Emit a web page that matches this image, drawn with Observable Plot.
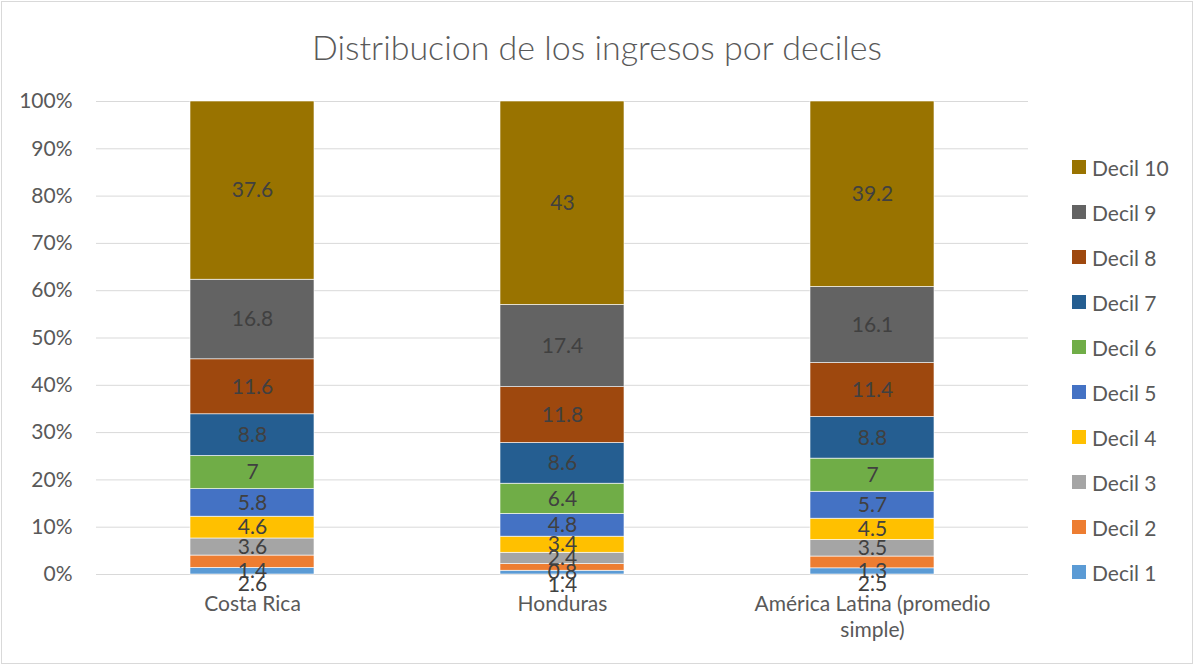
<!DOCTYPE html>
<html>
<head>
<meta charset="utf-8">
<script src="https://cdn.jsdelivr.net/npm/d3@7"></script>
<script src="https://cdn.jsdelivr.net/npm/@observablehq/plot@0.6"></script>
<style>
  html, body { margin: 0; padding: 0; background: #fff; }
  #chart { position: relative; width: 1194px; height: 665px; overflow: hidden; font-family: Lato, "Open Sans", sans-serif; }
  #frame { position: absolute; left: 1px; top: 1px; width: 1190px; height: 661px; border: 1px solid #d9d9d9; box-sizing: content-box; pointer-events: none; }
  #title { position: absolute; left: 0; width: 1194px; top: 25px; text-align: center; font-size: 34px; font-weight: 300; color: #595959; line-height: 44px; }
  #plot { position: absolute; left: 0; top: 0; }
  #legend { position: absolute; left: 1072px; top: 0; }
  .lg { position: absolute; left: 0; white-space: nowrap; font-size: 21px; color: #595959; display: flex; align-items: center; height: 24px; }
  .sw { width: 14px; height: 14px; margin-right: 6px; display: inline-block; }
</style>
</head>
<body>
<div id="chart">
  <div id="plot"></div>
  <div id="title">Distribucion de los ingresos por deciles</div>
  <div id="legend"></div>
  <div id="frame"></div>
</div>
<script>
// ---- data ----
const countries = ["Costa Rica", "Honduras", "América Latina (promedio simple)"];
const deciles = ["Decil 1", "Decil 2", "Decil 3", "Decil 4", "Decil 5", "Decil 6", "Decil 7", "Decil 8", "Decil 9", "Decil 10"];
const costaRica = [1.4, 2.6, 3.6, 4.6, 5.8, 7, 8.8, 11.6, 16.8, 37.6];
const honduras = [0.8, 1.4, 2.4, 3.4, 4.8, 6.4, 8.6, 11.8, 17.4, 43];
const americaLatina = [1.3, 2.5, 3.5, 4.5, 5.7, 7, 8.8, 11.4, 16.1, 39.2];
const colors = ["#5B9BD5", "#ED7D31", "#A5A5A5", "#FFC000", "#4472C4", "#70AD47", "#255E91", "#9E480E", "#636363", "#997300"];
const yTicks = [0, 0.1, 0.2, 0.3, 0.4, 0.5, 0.6, 0.7, 0.8, 0.9, 1];

const series = [costaRica, honduras, americaLatina];
const rows = [];
countries.forEach((c, ci) => {
  deciles.forEach((d, di) => rows.push({country: c, decil: d, value: series[ci][di], order: di}));
});

// label positions: segment centres, with Excel-like overlap avoidance
const gap = 0.027; // fraction of axis height roughly equal to one label line
const labels = [];
countries.forEach((c, ci) => {
  const vals = series[ci];
  const total = d3.sum(vals);
  let cum = 0;
  const placed = [];
  vals.forEach((v) => {
    let y = (cum + v / 2) / total;
    cum += v;
    if (placed.some(p => Math.abs(p - y) < gap)) y = d3.min(placed) - gap;
    placed.push(y);
    labels.push({country: c, y, text: String(v)});
  });
});

const plot = Plot.plot({
  width: 1194,
  height: 665,
  marginLeft: 96,
  marginRight: 166,
  marginTop: 101,
  marginBottom: 91,
  style: {fontFamily: "Lato, 'Open Sans', sans-serif", fontSize: "21px", color: "#595959", background: "transparent"},
  x: {domain: countries, paddingInner: 0.6, paddingOuter: 0.3, label: null},
  y: {domain: [0, 1], label: null},
  color: {domain: deciles, range: colors},
  marks: [
    Plot.gridY(yTicks, {stroke: "#d9d9d9", strokeOpacity: 1, strokeWidth: 1}),
    Plot.axisY(yTicks, {tickFormat: d3.format(".0%"), tickSize: 0, tickPadding: 24, fontSize: 21, fill: "#595959", label: null}),
    Plot.barY(rows, Plot.stackY({offset: "normalize", order: "order"}, {x: "country", y: "value", fill: "decil", stroke: "#fff", strokeWidth: 0.6})),
    Plot.axisX({tickSize: 0, tickPadding: 18, fontSize: 21, fill: "#595959", lineWidth: 14, lineHeight: 1.25, label: null}),
    Plot.text(labels, {x: "country", y: "y", text: "text", fontSize: 21, fill: "#404040"})
  ]
});
document.getElementById("plot").appendChild(plot);

const legend = document.getElementById("legend");
deciles.slice().reverse().forEach((d, i) => {
  const row = document.createElement("div");
  row.className = "lg";
  row.style.top = (155 + i * 45) + "px";
  const sw = document.createElement("span");
  sw.className = "sw";
  sw.style.background = colors[deciles.indexOf(d)];
  row.appendChild(sw);
  row.appendChild(document.createTextNode(d));
  legend.appendChild(row);
});
</script>
</body>
</html>
